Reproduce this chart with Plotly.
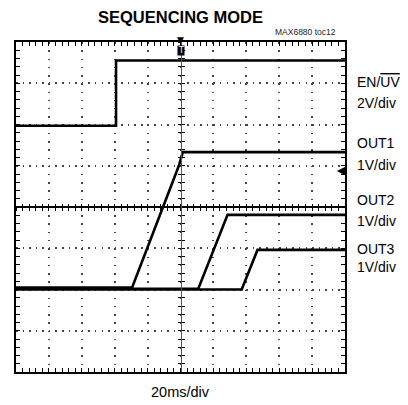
import plotly.graph_objects as go

# Time in divisions (20 ms/div), voltage in divisions from bottom
en_t = [0, 3.04, 3.04, 10]
en_v = [5.97, 5.97, 7.55, 7.55]
out1_t = [0, 3.53, 4.95, 5.07, 10]
out1_v = [2.05, 2.05, 5.0, 5.33, 5.33]
out2_t = [0, 5.54, 6.43, 10]
out2_v = [2.02, 2.02, 3.81, 3.81]
out3_t = [0, 6.86, 7.34, 10]
out3_v = [2.0, 2.0, 2.96, 2.96]

labels = ["EN/<span style='text-decoration:overline'>UV</span>", "2V/div",
          "OUT1", "1V/div", "OUT2", "1V/div", "OUT3", "1V/div"]
label_y = [7.03, 6.52, 5.55, 5.02, 4.17, 3.66, 2.98, 2.55]

FONT = "Liberation Sans, Arial, Helvetica, sans-serif"

fig = go.Figure()
for t, v in [(en_t, en_v), (out1_t, out1_v), (out2_t, out2_v), (out3_t, out3_v)]:
    fig.add_trace(go.Scatter(x=t, y=v, mode="lines",
                             line=dict(color="black", width=2.6),
                             hoverinfo="skip", showlegend=False))
# empty traces for crosshair axes
fig.add_trace(go.Scatter(x=[], y=[], xaxis="x2", yaxis="y2", showlegend=False))
fig.add_trace(go.Scatter(x=[], y=[], xaxis="x3", yaxis="y3", showlegend=False))

tick_common = dict(showticklabels=False, tickcolor="black", tickwidth=1.2)

fig.update_layout(
    width=392, height=397,
    margin=dict(l=8, r=55, t=34, b=33),
    paper_bgcolor="white", plot_bgcolor="white",
    xaxis=dict(range=[0, 10], dtick=1, showgrid=True, gridcolor="#444",
               gridwidth=1.5, griddash="1.5px,6.75px", zeroline=False,
               showline=True, linecolor="black", linewidth=2, mirror="ticks",
               ticks="inside", ticklen=4,
               minor=dict(dtick=0.2, ticks="inside", ticklen=4, tickcolor="black",
                          tickwidth=1.2, showgrid=False),
               fixedrange=True, **tick_common),
    yaxis=dict(range=[0, 8], dtick=1, showgrid=True, gridcolor="#444",
               gridwidth=1.5, griddash="1.5px,5.08px", zeroline=False,
               showline=True, linecolor="black", linewidth=2, mirror="ticks",
               ticks="inside", ticklen=4,
               minor=dict(dtick=0.2, ticks="inside", ticklen=4, tickcolor="black",
                          tickwidth=1.2, showgrid=False),
               fixedrange=True, **tick_common),
    xaxis2=dict(overlaying="x", anchor="free", position=0.5, range=[0, 10], dtick=1,
                showgrid=False, zeroline=False, showline=True, linecolor="black",
                linewidth=1.5, ticks="outside", ticklen=3,
                minor=dict(dtick=0.2, ticks="outside", ticklen=3, tickcolor="black",
                           tickwidth=1.2, showgrid=False),
                **tick_common),
    yaxis2=dict(overlaying="y", anchor="free", position=0.5, range=[0, 8], dtick=1,
                showgrid=False, zeroline=False, showline=True, linecolor="#555",
                linewidth=1, ticks="outside", ticklen=3,
                minor=dict(dtick=0.2, ticks="outside", ticklen=3, tickcolor="black",
                           tickwidth=1.2, showgrid=False),
                **tick_common),
    xaxis3=dict(overlaying="x", anchor="free", position=0.5, range=[0, 10], dtick=1,
                showgrid=False, zeroline=False, showline=False, ticks="inside", ticklen=3,
                minor=dict(dtick=0.2, ticks="inside", ticklen=3, tickcolor="black",
                           tickwidth=1.2, showgrid=False),
                **tick_common),
    yaxis3=dict(overlaying="y", anchor="free", position=0.5, range=[0, 8], dtick=1,
                showgrid=False, zeroline=False, showline=False, ticks="inside", ticklen=3,
                minor=dict(dtick=0.2, ticks="inside", ticklen=3, tickcolor="black",
                           tickwidth=1.2, showgrid=False),
                **tick_common),
    showlegend=False,
)

ann = []
for txt, yy in zip(labels, label_y):
    ann.append(dict(text=txt, x=1.03, xref="paper", y=yy, yref="y",
                    xanchor="left", yanchor="middle", showarrow=False,
                    font=dict(family=FONT, size=14, color="black")))
ann.append(dict(text="<b>SEQUENCING MODE</b>", x=0.5, xref="paper", y=1.077, yref="paper",
                xanchor="center", yanchor="middle", showarrow=False,
                font=dict(family=FONT, size=16.5, color="black")))
ann.append(dict(text="MAX6880 toc12", x=0.979, xref="paper", y=1.03, yref="paper",
                xanchor="right", yanchor="middle", showarrow=False,
                font=dict(family=FONT, size=8.5, color="#222")))
ann.append(dict(text="20ms/div", x=0.5, xref="paper", y=-0.06, yref="paper",
                xanchor="center", yanchor="middle", showarrow=False,
                font=dict(family=FONT, size=14.5, color="black")))
# trigger marker at top centre
ann.append(dict(text="▼", x=0.5, xref="paper", y=1.005, yref="paper",
                xanchor="center", yanchor="middle", showarrow=False,
                font=dict(family="DejaVu Sans", size=9, color="black")))
ann.append(dict(text="T", x=0.5, xref="paper", y=0.975, yref="paper",
                xanchor="center", yanchor="middle", showarrow=False, bgcolor="black",
                borderpad=0, font=dict(family="DejaVu Sans", size=8, color="white")))
# ground-level arrow at right edge
ann.append(dict(text="", x=0.975, xref="paper", y=4.87, yref="y",
                ax=10, ay=0, showarrow=True, arrowhead=2, arrowsize=1.2,
                arrowwidth=1.6, arrowcolor="black"))
fig.update_layout(annotations=ann)

fig.write_html("out.html")
